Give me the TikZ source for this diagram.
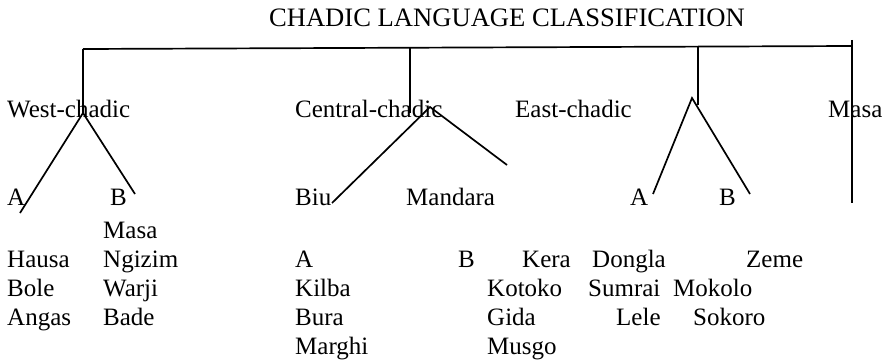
\documentclass[tikz,border=0pt]{standalone}
\usepackage{fontspec}
\setmainfont{Liberation Serif}
\usepackage{tikz}

\begin{document}
\begin{tikzpicture}[x=1pt,y=-1pt]
        \tikzset{lang/.style={anchor=base west, inner sep=0pt, font=\fontsize{25}{29}\selectfont}}
        \tikzset{branch/.style={line width=1.7pt, black}}
        \useasboundingbox (0,0) rectangle (893,361);
        \pgfmathsetmacro{\rowa}{117}
        \pgfmathsetmacro{\rowb}{205}
        \pgfmathsetmacro{\rowc}{238}
        \pgfmathsetmacro{\rowd}{267}
        \pgfmathsetmacro{\rowe}{296}
        \pgfmathsetmacro{\rowf}{325}
        \pgfmathsetmacro{\rowg}{354}
        \node[lang, anchor=base, font=\fontsize{26.6}{30}\selectfont] (title) at (507,27) {CHADIC LANGUAGE CLASSIFICATION};
        \node[lang] (west) at (7,\rowa) {West-chadic};
        \node[lang] (central) at (295,\rowa) {Central-chadic};
        \node[lang] (east) at (515,\rowa) {East-chadic};
        \node[lang] (masa) at (828,\rowa) {Masa};
        \node[lang] (westA) at (7,\rowb) {A};
        \node[lang] (westB) at (110,\rowb) {B};
        \node[lang] (biu) at (295,\rowb) {Biu};
        \node[lang] (mandara) at (406,\rowb) {Mandara};
        \node[lang] (eastA) at (630,\rowb) {A};
        \node[lang] (eastB) at (719,\rowb) {B};
        \node[lang] (masab) at (103,\rowc) {Masa};
        \node[lang] (hausa) at (7,\rowd) {Hausa};
        \node[lang] (ngizim) at (103,\rowd) {Ngizim};
        \node[lang] (biuA) at (295,\rowd) {A};
        \node[lang] (biuB) at (458,\rowd) {B};
        \node[lang] (kera) at (522,\rowd) {Kera};
        \node[lang] (dongla) at (592,\rowd) {Dongla};
        \node[lang] (zeme) at (746,\rowd) {Zeme};
        \node[lang] (bole) at (7,\rowe) {Bole};
        \node[lang] (warji) at (103,\rowe) {Warji};
        \node[lang] (kilba) at (295,\rowe) {Kilba};
        \node[lang] (kotoko) at (487,\rowe) {Kotoko};
        \node[lang] (sumrai) at (588,\rowe) {Sumrai};
        \node[lang] (mokolo) at (673,\rowe) {Mokolo};
        \node[lang] (angas) at (7,\rowf) {Angas};
        \node[lang] (bade) at (103,\rowf) {Bade};
        \node[lang] (bura) at (295,\rowf) {Bura};
        \node[lang] (gida) at (487,\rowf) {Gida};
        \node[lang] (lele) at (616,\rowf) {Lele};
        \node[lang] (sokoro) at (693,\rowf) {Sokoro};
        \node[lang] (marghi) at (295,\rowg) {Marghi};
        \node[lang] (musgo) at (487,\rowg) {Musgo};
        \coordinate (barW) at (83,49);
        \coordinate (barE) at (852,46);
        \coordinate (topM) at (852,40);
        \coordinate (topC) at (410,48);
        \coordinate (topE) at (698,47);
        \coordinate (apW) at (83,113);
        \coordinate (apC) at (430,107);
        \coordinate (dropC) at (410,113);
        \coordinate (apE) at (692,98);
        \coordinate (dropE) at (698,105);
        \coordinate (endWA) at (20,213);
        \coordinate (endWB) at (135,194);
        \coordinate (endBiu) at (332,203);
        \coordinate (endMan) at (507,165);
        \coordinate (endEA) at (653,194);
        \coordinate (endEB) at (750,194);
        \coordinate (endM) at (852,203);
        \draw[branch] (barW) -- (barE);
        \draw[branch] (topM) -- (endM);
        \draw[branch] (barW) -- (apW);
        \draw[branch] (topC) -- (dropC);
        \draw[branch] (topE) -- (dropE);
        \draw[branch] (endWA) -- (apW) -- (endWB);
        \draw[branch] (endBiu) -- (apC) -- (endMan);
        \draw[branch] (endEA) -- (apE) -- (endEB);
    \end{tikzpicture}
\end{document}
